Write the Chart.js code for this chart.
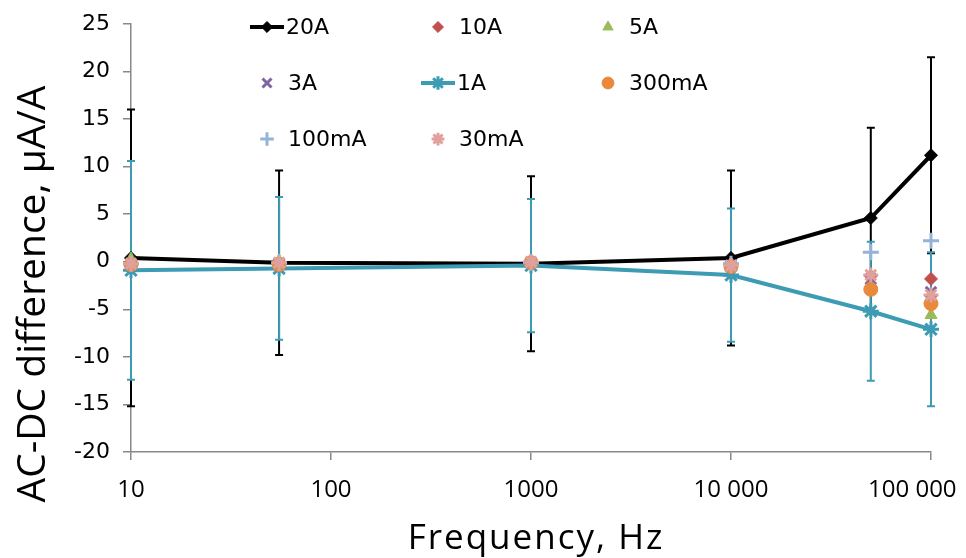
<!DOCTYPE html>
<html>
<head>
<meta charset="utf-8">
<script src="https://cdn.jsdelivr.net/npm/chart.js@4.4.1/dist/chart.umd.min.js"></script>
<style>
  html, body { margin: 0; padding: 0; background: #fff; }
  #wrap { width: 966px; height: 558px; }
</style>
</head>
<body>
<div id="wrap"><canvas id="myChart" width="966" height="558"></canvas></div>
<script>
	// frequencies (Hz) and tick labels
	var freqs = [10, 55, 1000, 10000, 50000, 100000];
	var xTickValues = [10, 100, 1000, 10000, 100000];
	var xTickLabels = ['10', '100', '1000', '10 000', '100 000'];

	// AC-DC difference, uA/A
	var seriesNames = ['20A', '10A', '5A', '3A', '1A', '300mA', '100mA', '30mA'];
	var val20A  = [0.4, -0.1, -0.2, 0.4, 4.6, 11.2];
	var err20A  = [15.6, 9.7, 9.2, 9.2, 9.5, 10.3];
	var val10A  = [-0.1, 0.0, 0.0, -0.3, -1.5, -1.8];
	var val5A   = [0.3, 0.1, 0.0, -0.2, -2.4, -5.6];
	var val3A   = [-0.4, -0.2, -0.1, -0.4, -1.8, -3.2];
	var val1A   = [-0.9, -0.7, -0.4, -1.4, -5.2, -7.1];
	var err1A   = [11.5, 7.5, 7.0, 7.0, 7.3, 8.1];
	var val300mA = [-0.3, -0.3, -0.1, -0.5, -2.9, -4.4];
	var val100mA = [-0.2, -0.1, -0.1, -0.2, 1.0, 2.2];
	var val30mA  = [-0.2, -0.1, 0.0, -0.4, -1.4, -3.5];

	function pts(vals) {
		return freqs.map(function(f, i) { return {x: f, y: vals[i]}; });
	}

	var styles = [
		{color: '#000000', point: 'rectRot',  r: 6.5, bw: 1, line: true},
		{color: '#C0504D', point: 'rectRot',  r: 6.5, bw: 1, line: false},
		{color: '#9BBB59', point: 'triangle', r: 7,   bw: 1, line: false},
		{color: '#8064A2', point: 'crossRot', r: 7.5, bw: 3, line: false},
		{color: '#3D9BB3', point: 'star',     r: 8,   bw: 3, line: true},
		{color: '#E8893B', point: 'circle',   r: 7,   bw: 1, line: false},
		{color: '#95B3D7', point: 'cross',    r: 8,   bw: 3, line: false},
		{color: '#E0A09C', point: 'star',     r: 7.5, bw: 3, line: false}
	];
	var allVals = [val20A, val10A, val5A, val3A, val1A, val300mA, val100mA, val30mA];

	var datasets = seriesNames.map(function(name, i) {
		var s = styles[i];
		return {
			label: name,
			data: pts(allVals[i]),
			showLine: s.line,
			borderColor: s.color,
			backgroundColor: s.color,
			borderWidth: 4,
			pointStyle: s.point,
			pointRadius: s.r,
			pointBorderWidth: s.bw,
			pointBorderColor: s.color,
			pointBackgroundColor: s.color,
			tension: 0,
			clip: false,
			order: seriesNames.length - i
		};
	});

	function drawErrors(chart, idx, errs, color) {
		var ctx = chart.ctx;
		var xs = chart.scales.x, ys = chart.scales.y;
		var data = chart.data.datasets[idx].data;
		ctx.save();
		ctx.strokeStyle = color;
		ctx.lineWidth = 2;
		for (var i = 0; i < data.length; i++) {
			var x = xs.getPixelForValue(data[i].x);
			var top = ys.getPixelForValue(data[i].y + errs[i]);
			var bot = ys.getPixelForValue(data[i].y - errs[i]);
			ctx.beginPath();
			ctx.moveTo(x, top); ctx.lineTo(x, bot);
			ctx.moveTo(x - 4, top); ctx.lineTo(x + 4, top);
			ctx.moveTo(x - 4, bot); ctx.lineTo(x + 4, bot);
			ctx.stroke();
		}
		ctx.restore();
	}

	// legend grid: 3 columns x 3 rows inside the plot
	var legendCols = [267, 438, 608];
	var legendRows = [27, 83, 139];

	var extras = {
		id: 'extras',
		beforeDatasetsDraw: function(chart) {
			drawErrors(chart, 0, err20A, '#000000');
			drawErrors(chart, 4, err1A, '#3D9BB3');
		},
		afterDraw: function(chart) {
			var ctx = chart.ctx;
			ctx.save();
			// legend
			ctx.font = '22px "DejaVu Sans"';
			ctx.textBaseline = 'middle';
			ctx.textAlign = 'left';
			for (var i = 0; i < seriesNames.length; i++) {
				var s = styles[i];
				var cx = legendCols[i % 3], cy = legendRows[Math.floor(i / 3)];
				ctx.strokeStyle = s.color;
				ctx.fillStyle = s.color;
				if (s.line) {
					ctx.lineWidth = 4;
					ctx.beginPath();
					ctx.moveTo(cx - 17, cy); ctx.lineTo(cx + 17, cy);
					ctx.stroke();
				}
				ctx.lineWidth = s.bw;
				Chart.helpers.drawPoint(ctx, {pointStyle: s.point, radius: s.r * 0.85, rotation: 0, borderWidth: s.bw}, cx, cy);
				ctx.fillStyle = '#000';
				ctx.fillText(seriesNames[i], cx + (s.line ? 19 : 21), cy + 1);
			}
			// axis titles
			ctx.fillStyle = '#000';
			ctx.font = '35px "Open Sans"';
			ctx.letterSpacing = '2px';
			ctx.textAlign = 'center';
			ctx.textBaseline = 'alphabetic';
			ctx.fillText('Frequency, Hz', 536, 549);
			ctx.letterSpacing = '0px';
			ctx.translate(45, 294);
			ctx.rotate(-Math.PI / 2);
			ctx.font = '39px "Open Sans"';
			ctx.fillText('AC-DC difference, \u03BCA/A', 0, 0);
			ctx.restore();
		}
	};

	var ctx = document.getElementById('myChart').getContext('2d');
	var myChart = new Chart(ctx, {
		type: 'scatter',
		data: { datasets: datasets },
		options: {
			responsive: false,
			animation: false,
			devicePixelRatio: 1,
			layout: { padding: { left: 0, right: 35, top: 24, bottom: 0 } },
			plugins: { legend: { display: false }, tooltip: { enabled: false } },
			scales: {
				x: {
					type: 'logarithmic',
					min: 10,
					max: 100000,
					afterBuildTicks: function(scale) {
						scale.ticks = xTickValues.map(function(v) { return {value: v}; });
					},
					afterFit: function(scale) {
						scale.height = 106;
						scale.paddingLeft = 0;
						scale.paddingRight = 0;
					},
					border: { color: '#888888', width: 1.5 },
					grid: { drawOnChartArea: false, drawTicks: true, tickLength: 8, color: '#888888', lineWidth: 1.5 },
					ticks: {
						color: '#000',
						font: { family: 'Open Sans', size: 24 },
						padding: 16,
						maxRotation: 0,
						autoSkip: false,
						callback: function(v) {
							var i = xTickValues.indexOf(v);
							if (i < 0) return '';
							// last label sits pulled in from the right edge
							return i === xTickValues.length - 1 ? xTickLabels[i] + '      ' : xTickLabels[i];
						}
					}
				},
				y: {
					min: -20,
					max: 25,
					afterFit: function(scale) {
						scale.width = 131;
						scale.paddingTop = 0;
						scale.paddingBottom = 0;
					},
					border: { color: '#888888', width: 1.5 },
					grid: { drawOnChartArea: false, drawTicks: true, tickLength: 8, color: '#888888', lineWidth: 1.5 },
					ticks: {
						stepSize: 5,
						color: '#000',
						font: { family: 'DejaVu Sans', size: 22 },
						padding: 13
					}
				}
			}
		},
		plugins: [extras]
	});
</script>
</body>
</html>
